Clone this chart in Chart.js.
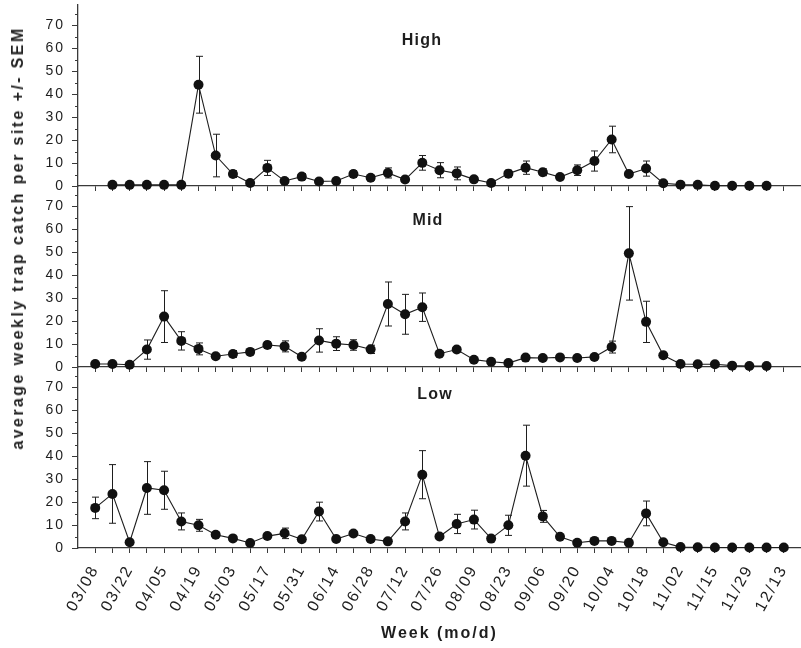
<!DOCTYPE html>
<html>
<head>
<meta charset="utf-8">
<title>Weekly trap catch</title>
<script src="https://cdn.jsdelivr.net/npm/chart.js@4.4.1/dist/chart.umd.min.js"></script>
<style>
  html, body { margin: 0; padding: 0; background: #fff; }
  #wrap { position: relative; width: 801px; height: 648px; overflow: hidden; }
  .panel { position: absolute; left: 0; width: 801px; }
  #yTitle {
    position: absolute; left: 18px; top: 238px;
    transform: translate(-50%, -50%) rotate(-90deg);
    white-space: nowrap; color: #222;
    font: bold 16px "Liberation Sans", Arial, sans-serif; letter-spacing: 2.4px;
  }
</style>
</head>
<body>
<div id="wrap">
  <div class="panel" style="top:0;height:200px"><canvas id="high"></canvas></div>
  <div class="panel" style="top:181px;height:200px"><canvas id="mid"></canvas></div>
  <div class="panel" style="top:362px;height:286px"><canvas id="low"></canvas></div>
  <div id="yTitle">average weekly trap catch per site +/- SEM</div>
</div>
<script>
// weekly sampling, 03/08 .. 12/13 (41 weeks); null = site not trapped that week
const tickLabels = ['03/08', '03/22', '04/05', '04/19', '05/03', '05/17', '05/31', '06/14', '06/28', '07/12',
  '07/26', '08/09', '08/23', '09/06', '09/20', '10/04', '10/18', '11/02', '11/15', '11/29', '12/13'];
const yTicks = [0, 10, 20, 30, 40, 50, 60, 70];
const yMinorTicks = [5, 15, 25, 35, 45, 55, 65, 75];

const highMean = [null, 0.5, 0.5, 0.5, 0.5, 0.5, 44.2, 13.3, 5.2, 1.3, 7.9, 2.2, 4.1, 2.0, 2.2, 5.2, 3.6, 5.7, 2.8, 10.1,
  6.9, 5.5, 2.9, 1.3, 5.4, 8.0, 6.0, 3.9, 6.9, 10.9, 20.3, 5.2, 7.6, 1.2, 0.6, 0.5, 0.1, 0.1, 0.1, 0.1, null];
const highSem = [null, 0.3, 0.3, 0.3, 0.3, 0.3, 12.4, 9.3, 1.5, 0.5, 3.3, 0.8, 1.3, 0.5, 0.8, 1.5, 1.0, 2.2, 0.8, 3.2,
  3.3, 2.8, 1.0, 0.5, 1.5, 2.9, 1.5, 1.0, 2.3, 4.4, 5.8, 1.0, 3.3, 0.5, 0.2, 0.2, 0.2, 0.2, 0.2, 0.2, null];

const midMean = [1.3, 1.3, 1.0, 7.6, 22.0, 11.4, 7.9, 4.7, 5.7, 6.6, 9.6, 9.0, 4.5, 11.6, 10.2, 9.6, 7.7, 27.5, 23.0, 26.1,
  5.8, 7.6, 3.2, 2.3, 1.7, 4.1, 3.9, 4.2, 3.9, 4.4, 8.7, 49.6, 19.7, 5.1, 1.3, 1.2, 1.2, 0.6, 0.4, 0.4, null];
const midSem = [0.3, 0.3, 0.3, 4.2, 11.3, 4.0, 2.6, 0.8, 1.5, 1.2, 1.5, 2.4, 0.8, 5.1, 3.0, 2.3, 1.8, 9.6, 8.7, 6.2,
  0.8, 1.0, 0.8, 0.6, 0.5, 0.6, 0.5, 0.6, 0.6, 0.6, 2.6, 20.4, 9.0, 1.3, 0.3, 0.3, 0.3, 0.2, 0.2, 0.2, null];

const lowMean = [17.5, 23.6, 2.5, 26.2, 25.2, 11.6, 9.9, 5.8, 4.2, 2.2, 5.2, 6.4, 3.8, 15.9, 3.9, 6.3, 3.9, 2.9, 11.6, 32.0,
  5.0, 10.5, 12.4, 4.1, 9.9, 40.3, 13.8, 4.9, 2.3, 3.1, 3.1, 2.3, 15.1, 2.5, 0.4, 0.3, 0.2, 0.2, 0.2, 0.2, 0.2];
const lowSem = [4.7, 12.8, 0.5, 11.5, 8.3, 3.7, 2.6, 0.8, 0.8, 0.5, 1.0, 2.3, 0.8, 4.1, 0.8, 1.2, 0.8, 0.6, 3.7, 10.5,
  0.8, 4.2, 4.1, 0.8, 4.4, 13.3, 2.6, 0.8, 0.5, 0.6, 0.6, 0.5, 5.4, 0.5, 0.2, 0.1, 0.1, 0.1, 0.1, 0.1, 0.1];

const ink = '#1e1e1e';
const axisInk = '#3a3a3a';
const fontFamily = '"Liberation Sans", Arial, sans-serif';

// the old figure has loosely tracked lettering
const tracking = {
  id: 'tracking',
  beforeUpdate(c) { c.ctx.letterSpacing = '2px'; },
  beforeDraw(c) { c.ctx.letterSpacing = '2px'; }
};

// short ticks at the 5s between the labelled ones
const minorTicks = {
  id: 'minorTicks',
  afterDraw(c) {
    const y = c.scales.y, ctx = c.ctx;
    ctx.save();
    ctx.strokeStyle = axisInk;
    ctx.lineWidth = 1;
    ctx.beginPath();
    yMinorTicks.forEach(v => {
      const py = Math.round(y.getPixelForValue(v)) + 0.5;
      ctx.moveTo(y.right - 3, py);
      ctx.lineTo(y.right, py);
    });
    ctx.stroke();
    ctx.restore();
  }
};

// +/- SEM whiskers, drawn under the markers
const errorBars = {
  id: 'errorBars',
  beforeDatasetsDraw(c, args, opts) {
    const x = c.scales.x, y = c.scales.y, ctx = c.ctx;
    ctx.save();
    ctx.strokeStyle = ink;
    ctx.lineWidth = 1;
    ctx.beginPath();
    opts.means.forEach((m, i) => {
      const s = opts.sems[i];
      if (m == null || !s) return;
      const px = Math.round(x.getPixelForValue(i)) + 0.5;
      const top = y.getPixelForValue(m + s);
      const bot = y.getPixelForValue(Math.max(0, m - s));
      ctx.moveTo(px, top); ctx.lineTo(px, bot);
      ctx.moveTo(px - 3.5, top); ctx.lineTo(px + 3.5, top);
      ctx.moveTo(px - 3.5, bot); ctx.lineTo(px + 3.5, bot);
    });
    ctx.stroke();
    ctx.restore();
  }
};

const panelTitle = {
  id: 'panelTitle',
  afterDraw(c, args, opts) {
    const ctx = c.ctx;
    ctx.save();
    ctx.letterSpacing = '1.2px';
    ctx.font = 'bold 16px ' + fontFamily;
    ctx.fillStyle = ink;
    ctx.textAlign = 'center';
    ctx.textBaseline = 'middle';
    ctx.fillText(opts.text, opts.x, opts.y);
    ctx.restore();
  }
};

// keep the plot box fixed: no extra room for half-height tick labels
function noLabelMargins(s) {
  s.paddingTop = 0; s.paddingBottom = 0; s.paddingLeft = 0; s.paddingRight = 0;
}

function makePanel(id, means, sems, title, bottomAxis) {
  const points = [];
  means.forEach((m, i) => { if (m != null) points.push({ x: i, y: m }); });

  return new Chart(document.getElementById(id), {
    type: 'line',
    data: {
      datasets: [{
        data: points,
        borderColor: ink,
        borderWidth: 1.1,
        pointRadius: 5,
        pointBackgroundColor: '#111',
        pointBorderWidth: 0,
        tension: 0,
        clip: false
      }]
    },
    options: {
      responsive: true,
      maintainAspectRatio: false,
      animation: false,
      events: [],
      layout: { padding: { top: 5, left: 0, right: 0, bottom: 0 }, autoPadding: false },
      plugins: {
        legend: { display: false },
        tooltip: { enabled: false },
        errorBars: { means: means, sems: sems },
        panelTitle: title
      },
      scales: {
        x: {
          type: 'linear',
          min: -1,
          max: 41,
          afterBuildTicks(s) { s.ticks = lowMean.map((_, i) => ({ value: i })); },
          afterFit(s) { s.height = bottomAxis ? 100 : 14; noLabelMargins(s); },
          border: { color: axisInk, width: 1.3 },
          grid: { drawOnChartArea: false, drawTicks: true, tickLength: 5, color: axisInk, lineWidth: 1 },
          ticks: {
            display: bottomAxis,
            autoSkip: false,
            minRotation: 61,
            maxRotation: 61,
            padding: 9,
            color: ink,
            font: { family: fontFamily, size: 16 },
            callback: v => (v % 2 === 0 ? tickLabels[v / 2] : '')
          },
          title: {
            display: bottomAxis,
            text: 'Week (mo/d)',
            color: ink,
            font: { family: fontFamily, size: 16, weight: 'bold' },
            padding: { top: 0, bottom: 5 }
          }
        },
        y: {
          min: 0,
          max: 79,
          afterBuildTicks(s) { s.ticks = yTicks.map(v => ({ value: v })); },
          afterFit(s) { s.width = 78; noLabelMargins(s); },
          border: { color: axisInk, width: 1.3 },
          grid: { drawOnChartArea: false, drawTicks: true, tickLength: 6, color: axisInk, lineWidth: 1 },
          ticks: {
            padding: 7,
            color: ink,
            font: { family: fontFamily, size: 14 }
          }
        }
      }
    },
    plugins: [tracking, minorTicks, errorBars, panelTitle]
  });
}

makePanel('high', highMean, highSem, { text: 'High', x: 422, y: 41 }, false);
makePanel('mid', midMean, midSem, { text: 'Mid', x: 428, y: 39.5 }, false);
makePanel('low', lowMean, lowSem, { text: 'Low', x: 435, y: 32.5 }, true);
</script>
</body>
</html>
